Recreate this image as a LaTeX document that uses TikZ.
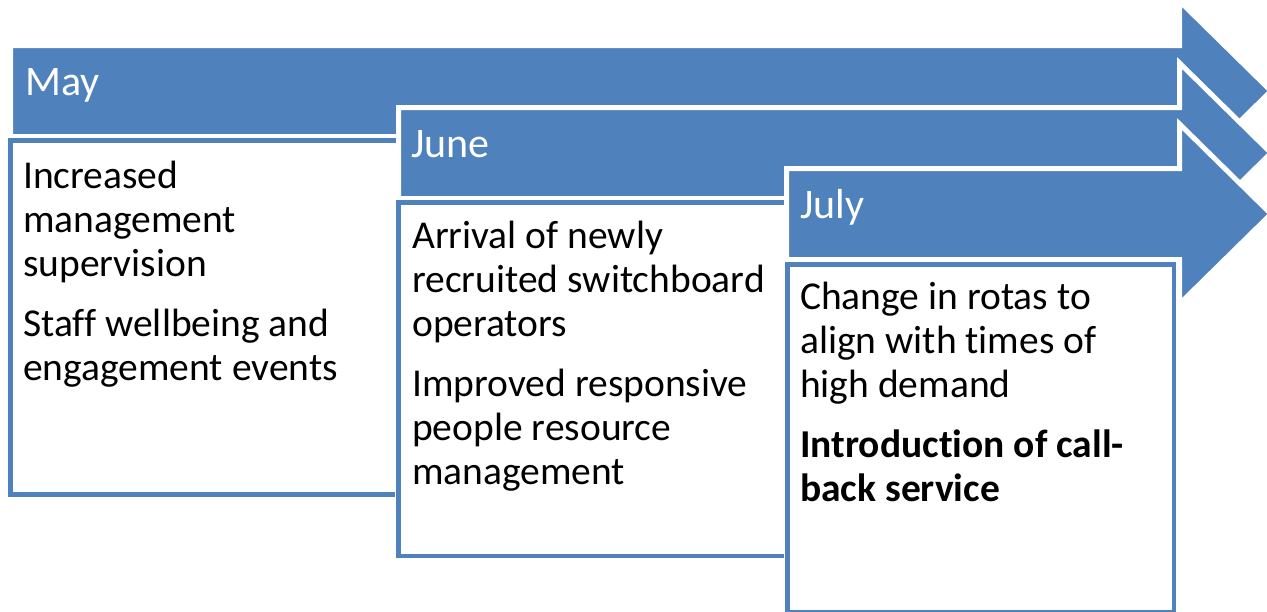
\documentclass[tikz,border=0pt]{standalone}
\usepackage{fontspec}
\setmainfont{Carlito}[Ligatures=CommonOff]
\definecolor{ppblue}{HTML}{4F81BD}
\newcommand\tlarrow[2]{%
  \draw[arrowshape] (#1-2.5, #2-45.5) -- (1179.5, #2-45.5) -- (1179.5, #2-90) -- (1271, #2)
    -- (1179.5, #2+90) -- (1179.5, #2+45.5) -- (#1-2.5, #2+45.5) -- cycle;}
\newcommand\bodytext[1]{\parbox[t]{380pt}{\fontsize{39.5}{44}\selectfont\setlength\parskip{16.5pt}\raggedright #1}}
\begin{document}
\begin{tikzpicture}[x=1pt,y=-1pt,
  arrowshape/.style={fill=ppblue, draw=white, line width=5pt, line join=miter},
  boxshape/.style={fill=white, draw=ppblue, line width=4.5pt, preaction={draw=white, line width=8pt}},
  month/.style={anchor=base west, inner sep=0pt, text=white, font=\fontsize{42}{50}\selectfont},
  body/.style={anchor=base west, inner sep=0pt, text=black}]
\useasboundingbox[fill=white] (0,0) rectangle (1267,611);
% May
\tlarrow{13}{91}
\draw[boxshape] (10.5,140.5) rectangle (398,494.5);
\node[month] (may) at (25,95) {May};
\node[body] (maytext) at (23,188) {\bodytext{Increased\\management\\supervision\par
Staff wellbeing and\\engagement events}};
% June
\tlarrow{401}{153}
\draw[boxshape] (398.5,202.5) rectangle (786,556);
\node[month] (june) at (411,157) {June};
\node[body] (junetext) at (412,248) {\bodytext{Arrival of newly\\recruited switchboard\\operators\par
Improved responsive\\people resource\\management}};
% July
\tlarrow{789}{214}
\draw[boxshape] (787.5,264.5) rectangle (1174,612);
\node[month] (july) at (800,218) {July};
\node[body] (julytext) at (800,309) {\bodytext{Change in rotas to\\align with times of\\high demand\par
\textbf{Introduction of call-\\back service}}};
\end{tikzpicture}
\end{document}
